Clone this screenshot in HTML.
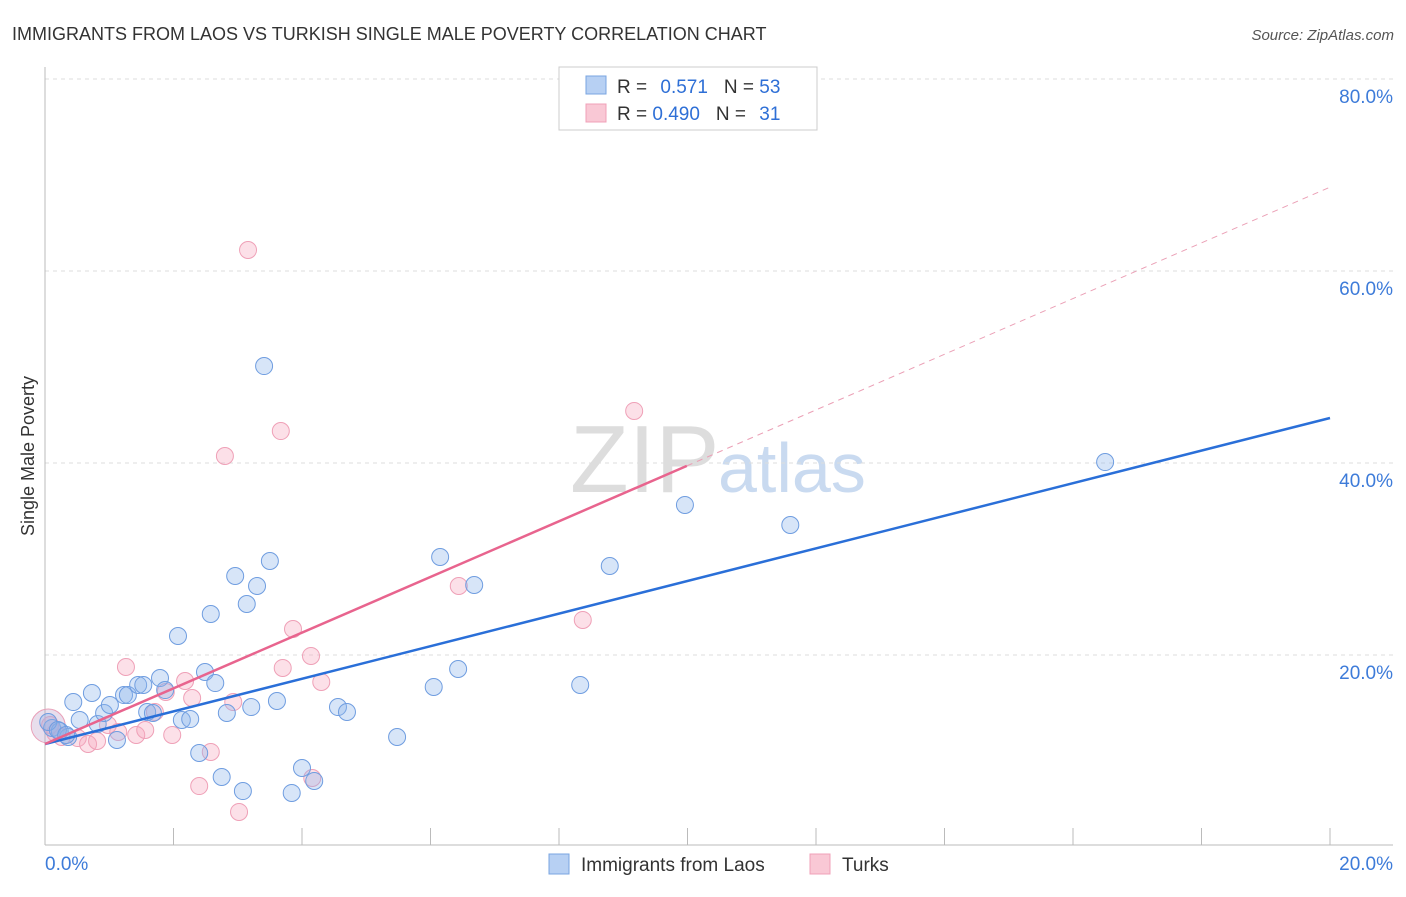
<!DOCTYPE html>
<html><head><meta charset="utf-8"><style>
body{margin:0;background:#fff;font-family:"Liberation Sans",sans-serif;}
svg text{font-family:"Liberation Sans",sans-serif;}
</style></head><body>
<svg id="chart" width="1406" height="892" xmlns="http://www.w3.org/2000/svg">
<text x="12" y="40" font-size="18" fill="#333">IMMIGRANTS FROM LAOS VS TURKISH SINGLE MALE POVERTY CORRELATION CHART</text>
<text x="1394" y="40" font-size="15" fill="#555" font-style="italic" text-anchor="end">Source: ZipAtlas.com</text>
<text x="570" y="492" font-size="96" fill="#ddd" font-family="Liberation Serif">ZIP</text>
<text x="718" y="492" font-size="70" fill="#c9daf0">atlas</text>
<text transform="translate(34,456) rotate(-90)" font-size="18" fill="#333" text-anchor="middle">Single Male Poverty</text>
<g id="grid"></g><g id="pts"></g><g id="lines"></g>
<g>
<rect x="559" y="67" width="258" height="63" fill="#fff" stroke="#ccc"/>
<rect x="586" y="76" width="20" height="18" fill="#b7d0f3" stroke="#7aa5e0"/>
<rect x="586" y="104" width="20" height="18" fill="#f9c8d5" stroke="#f0a0b8"/>
<text x="617" y="93" font-size="19" fill="#333">R = <tspan fill="#2e6fd6" dx="8">0.571</tspan><tspan dx="16">N = </tspan><tspan fill="#2e6fd6">53</tspan></text>
<text x="617" y="120" font-size="19" fill="#333">R = <tspan fill="#2e6fd6">0.490</tspan><tspan dx="16">N = </tspan><tspan fill="#2e6fd6" dx="8">31</tspan></text>
</g>
<g>
<rect x="549" y="854" width="20" height="20" fill="#b7d0f3" stroke="#7aa5e0"/>
<text x="581" y="871" font-size="19" fill="#333">Immigrants from Laos</text>
<rect x="810" y="854" width="20" height="20" fill="#f9c8d5" stroke="#f0a0b8"/>
<text x="842" y="871" font-size="19" fill="#333">Turks</text>
</g>
</svg>
<script>
const yTicks=[20,40,60,80];
const xTickLabels=["0.0%","20.0%"];
const laosX=[0.11,0.23,0.36,0.44,0.54,0.73,0.82,0.92,1.01,1.12,1.23,1.29,1.45,1.53,1.59,1.68,1.79,1.87,2.07,2.13,2.26,2.40,2.49,2.58,2.65,2.75,2.83,2.96,3.08,3.14,3.21,3.30,3.41,3.50,3.61,3.84,4.00,4.19,4.56,4.70,5.48,6.05,6.15,6.43,6.68,8.33,8.79,9.96,11.60,16.50,0.05,0.20,0.33];
const laosY=[12.40,12.08,11.46,15.10,13.23,16.04,12.81,13.96,14.79,11.15,15.83,15.83,16.88,16.88,14.06,13.96,17.60,16.35,21.98,13.23,13.33,9.79,18.23,24.27,17.08,7.29,13.96,28.23,5.83,25.31,14.58,27.19,50.10,29.79,15.21,5.63,8.23,6.88,14.58,14.06,11.46,16.67,30.21,18.54,27.29,16.88,29.27,35.63,33.54,40.10,13.02,12.19,11.67];
const turksX=[0.08,0.26,0.51,0.67,0.81,0.98,1.14,1.26,1.42,1.56,1.71,1.88,1.98,2.18,2.29,2.40,2.58,2.80,2.93,3.02,3.16,3.67,3.70,3.86,4.14,4.16,4.30,6.44,8.37,9.17,0.16];
const turksY=[12.71,11.46,11.35,10.73,11.04,12.71,11.98,18.75,11.67,12.19,14.06,16.15,11.67,17.29,15.52,6.35,9.90,40.73,15.10,3.65,62.19,43.33,18.65,22.71,19.90,7.19,17.19,27.19,23.65,45.42,11.88];
const laosTrend=[10.73,44.69];
const turksTrend=[10.73,68.73];
const NS="http://www.w3.org/2000/svg";
const X=v=>45+v/20*1285, Y=v=>847-v*9.6;
function mk(tag,attrs,parent){const e=document.createElementNS(NS,tag);for(const k in attrs)e.setAttribute(k,attrs[k]);parent.appendChild(e);return e;}
const grid=document.getElementById('grid');
yTicks.forEach(t=>{
 const l=mk('line',{x1:45,x2:1393,y1:Y(t),y2:Y(t),stroke:'#ddd','stroke-dasharray':'4,4'},grid);
 
 
 const tx=mk('text',{x:1393,y:Y(t)+24,'font-size':19,fill:'#3d7bd9','text-anchor':'end'},grid);tx.textContent=t.toFixed(1)+'%';
 
 
});
mk('line',{x1:45,x2:45,y1:67,y2:845,stroke:'#bbb'},grid);
mk('line',{x1:45,x2:1393,y1:845,y2:845,stroke:'#bbb'},grid);
for(let i=1;i<=10;i++){mk('line',{x1:X(i*2),x2:X(i*2),y1:828,y2:845,stroke:'#bbb'},grid);}
xTickLabels.forEach((s,i)=>{const t=mk('text',{x:i?1393:45,y:870,'font-size':19,fill:'#3d7bd9','text-anchor':i?'end':'start'},grid);t.textContent=s;
 
 });
const pts=document.getElementById('pts');
mk('circle',{cx:X(0.05),cy:Y(12.6),r:17,fill:'rgba(190,160,200,0.35)',stroke:'#e9a0b8'},pts);
turksX.forEach((x,i)=>{const c=mk('circle',{cx:X(x),cy:Y(turksY[i]),r:8.5,fill:'rgba(245,165,188,0.35)',stroke:'#efa0b7','stroke-width':1},pts);
 
 });
laosX.forEach((x,i)=>{const c=mk('circle',{cx:X(x),cy:Y(laosY[i]),r:8.5,fill:'rgba(140,180,235,0.35)',stroke:'#6f9de0','stroke-width':1},pts);
 
 });
const lines=document.getElementById('lines');
const lb=mk('line',{x1:X(0),y1:Y(laosTrend[0]),x2:X(20),y2:Y(laosTrend[1]),stroke:'#2a6fd8','stroke-width':2.5},lines);


const sl=(turksTrend[1]-turksTrend[0])/20, xe=9.99;
const lp=mk('line',{x1:X(0),y1:Y(turksTrend[0]),x2:X(xe),y2:Y(turksTrend[0]+sl*xe),stroke:'#e8648e','stroke-width':2.5},lines);


const ld=mk('line',{x1:X(xe),y1:Y(turksTrend[0]+sl*xe),x2:X(20),y2:Y(turksTrend[1]),stroke:'#eba0b6','stroke-width':1,'stroke-dasharray':'6,5'},lines);


</script>
</body></html>
